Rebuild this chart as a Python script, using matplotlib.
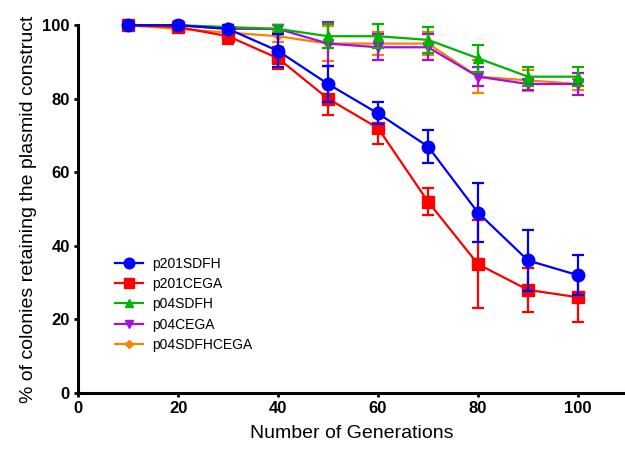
import matplotlib
matplotlib.use("Agg")
import matplotlib.pyplot as plt
from matplotlib.lines import Line2D

plt.rcParams['font.family'] = ['Liberation Sans', 'DejaVu Sans']

gens = [10, 20, 30, 40, 50, 60, 70, 80, 90, 100]

p201SDFH = [100, 100, 99, 93, 84, 76, 67, 49, 36, 32]
p201SDFH_err = [0, 0, 1, 4.5, 5, 3, 4.6, 8, 8.3, 5.5]

p201CEGA = [100, 99.5, 97, 91, 80, 72, 52, 35, 28, 26]
p201CEGA_err = [0, 0.5, 2, 3, 4.5, 4.3, 3.6, 12, 6, 6.7]

p04SDFH = [100, 100, 99.5, 99, 97, 97, 96, 91, 86, 86]
p04SDFH_err = [0, 0, 0.5, 1, 3.2, 3.2, 3.5, 3.6, 2.5, 2.5]

p04CEGA = [100, 100, 99, 99, 95, 94, 94, 86, 84, 84]
p04CEGA_err = [0, 0, 0.5, 1, 6, 3.6, 3.6, 2.6, 1.5, 3]

p04SDFHCEGA = [100, 99, 98, 97, 95, 95, 95, 86, 85, 84]
p04SDFHCEGA_err = [0, 0.5, 1, 1.5, 4.8, 3.2, 3.2, 4.5, 2.8, 1.5]

fig = plt.figure(figsize=(6.25, 4.5), dpi=100)
ax = fig.add_axes([0.125, 0.127, 0.875, 0.817])

# (label, values, errors, colour, marker, size, zorder)
series = [
    ("p201SDFH", p201SDFH, p201SDFH_err, "#0000FF", "o", 9, 10),
    ("p201CEGA", p201CEGA, p201CEGA_err, "#FF0000", "s", 8.5, 9),
    ("p04SDFH", p04SDFH, p04SDFH_err, "#00B400", "^", 7, 8),
    ("p04CEGA", p04CEGA, p04CEGA_err, "#A010E0", "v", 7, 7),
    ("p04SDFHCEGA", p04SDFHCEGA, p04SDFHCEGA_err, "#FF8000", "D", 4.5, 6),
]

handles = []
for label, vals, err, col, mk, ms, z in series:
    ax.errorbar(gens, vals, yerr=err, color=col, marker=mk, markersize=ms,
                linewidth=1.6, elinewidth=1.6, capsize=4, capthick=1.6,
                zorder=z, clip_on=False)
    handles.append(Line2D([], [], color=col, marker=mk, markersize=ms * 0.85,
                          linewidth=1.6, label=label))

ax.set_xlim(0, 109.4)
ax.set_ylim(0, 100)
ax.set_xticks([0, 20, 40, 60, 80, 100])
ax.set_yticks([0, 20, 40, 60, 80, 100])
for s in ["top", "right"]:
    ax.spines[s].set_visible(False)
for s in ["left", "bottom"]:
    ax.spines[s].set_linewidth(2.2)
ax.tick_params(direction="out", length=3, width=2, labelsize=12, pad=3)
for t in ax.get_xticklabels() + ax.get_yticklabels():
    t.set_fontweight("bold")

ax.set_xlabel("Number of Generations", fontsize=14, labelpad=6)
ax.set_ylabel("% of colonies retaining the plasmid construct", fontsize=14, labelpad=4)

ax.legend(handles=handles, loc="upper left", bbox_to_anchor=(0.057, 0.385),
          frameon=False, fontsize=10, handlelength=2.0, handletextpad=0.7,
          labelspacing=0.45, borderaxespad=0)

fig.savefig("out.png", dpi=100)
